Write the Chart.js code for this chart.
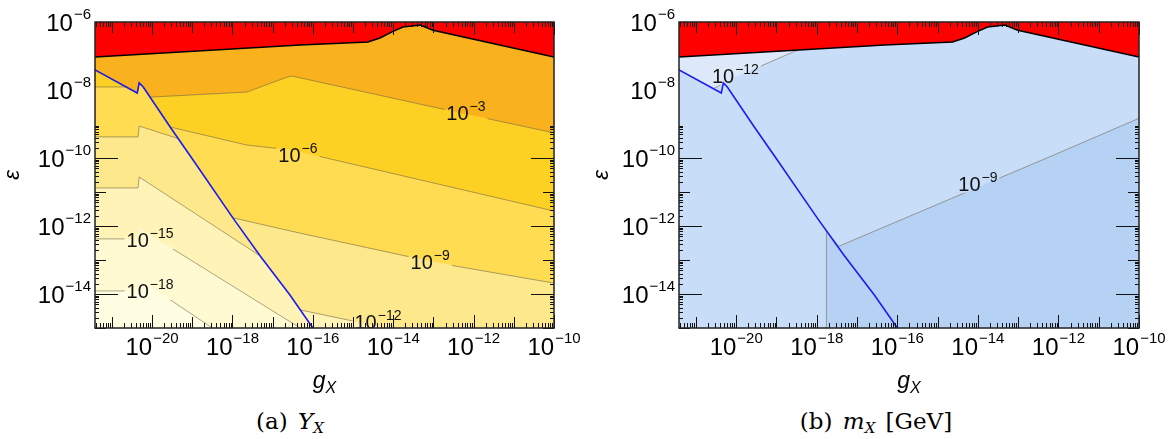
<!DOCTYPE html>
<html>
<head>
<meta charset="utf-8">
<title>Y_X and m_X contours</title>
<script src="https://cdn.jsdelivr.net/npm/chart.js@4.4.1/dist/chart.umd.min.js"></script>
<style>
  body { margin: 0; background: #fff; }
  #wrap { position: relative; width: 1175px; height: 439px; overflow: hidden; }
  canvas { position: absolute; top: 0; }
  #c1 { left: 0; }
  #c2 { left: 584px; }
  .cap { position: absolute; top: 407px; line-height: 28px; font-family: "DejaVu Serif", "Liberation Serif", serif; font-size: 23px; white-space: nowrap; transform: translateX(-50%); word-spacing: 3px; }
  .cap sub { font-size: 15px; line-height: 0; vertical-align: -4px; }
</style>
</head>
<body>
<div id="wrap">
  <canvas id="c1" width="590" height="400"></canvas>
  <canvas id="c2" width="591" height="400"></canvas>
  <div class="cap" style="left:290px">(a) <i>Y</i><sub><i>X</i></sub></div>
  <div class="cap" style="left:876px">(b) <i>m</i><sub><i>X</i></sub> [GeV]</div>
</div>
<script>
// all values are log10 (g_X on x, epsilon on y)
const xMinExp = -21.42, xMaxExp = -10;
const yMinExp = -15, yMaxExp = -6;
const xTickExp = [-20, -18, -16, -14, -12, -10];
const yTickExp = [-6, -8, -10, -12, -14];

// edge of the excluded (red) region, same in both panels
const redEdgeX = [-21.6, -16.32, -14.63, -14.33, -14.03, -13.76, -13.33, -13.01, -10.0, -9.8];
const redEdgeY = [-7.04, -6.68, -6.59, -6.47, -6.29, -6.15, -6.09, -6.24, -7.03, -7.08];

// blue line
const blueX = [-21.6, -21.42, -20.37, -20.32, -20.22, -19.55, -18.98, -17.99, -17.31, -16.57, -16.0, -15.85];
const blueY = [-7.29, -7.41, -8.09, -7.79, -7.91, -9.09, -10.06, -11.76, -12.88, -14.03, -15.0, -15.25];

// (a) Y_X contours (lines that leave through the bottom run on below the frame)
const yx3X = [-21.6, -21.42, -20.37, -20.32, -20.22, -20.05, -17.64, -16.64, -16.52, -12.66, -10.0, -9.8];
const yx3Y = [-7.29, -7.41, -8.09, -7.79, -7.91, -8.21, -8.06, -7.62, -7.59, -8.59, -9.26, -9.31];
const yx6X = [-21.6, -20.65, -20.37, -20.32, -20.22, -19.55, -17.64, -16.57, -16.32, -10.0, -9.8];
const yx6Y = [-7.91, -7.91, -8.09, -7.79, -7.91, -9.09, -9.62, -9.76, -9.82, -11.56, -11.62];
const yx9X = [-21.6, -20.35, -20.32, -19.35, -18.98, -17.99, -16.32, -13.58, -12.59, -10.0, -9.8];
const yx9Y = [-9.38, -9.38, -9.06, -9.43, -10.06, -11.76, -12.21, -12.91, -13.15, -13.68, -13.73];
const yx12X = [-21.6, -20.35, -20.32, -17.31, -16.57, -16.31, -14.9, -13.33, -9.8];
const yx12Y = [-10.88, -10.88, -10.56, -12.88, -14.03, -14.47, -14.82, -15.24, -15.3];
const yx15X = [-21.6, -20.35, -20.32, -16.07, -9.8];
const yx15Y = [-12.38, -12.38, -12.06, -15.18, -15.3];
const yx18X = [-21.6, -20.35, -20.32, -18.31, -9.8];
const yx18Y = [-13.91, -13.91, -13.56, -15.15, -15.3];
const yxLabelExp = [-3, -6, -9, -12, -15, -18];
const yxLabelX = [-12.19, -16.37, -13.08, -14.38, -20.05, -20.05];
const yxLabelY = [-8.68, -9.91, -13.06, -14.82, -12.41, -13.91];

// (b) m_X contours
const mx12X = [-21.6, -21.42, -20.57, -20.02, -18.58, -18.45];
const mx12Y = [-7.29, -7.41, -7.96, -7.62, -6.88, -6.82];
const mx9X = [-17.76, -17.76, -17.46, -12.11, -9.8];
const mx9Y = [-16, -12.14, -12.6, -9.91, -8.73];
const mxLabelExp = [-12, -9];
const mxLabelX = [-20.02, -14.0];
const mxLabelY = [-7.59, -10.76];

const FONT = '"Liberation Sans", Arial, sans-serif';

function pts(xs, ys) {
  return xs.map((v, i) => ({x: Math.pow(10, v), y: Math.pow(10, ys[i])}));
}

function contour(xs, ys, fillColor, fillTo, order) {
  return {
    data: pts(xs, ys),
    contour: true,
    borderColor: 'rgba(105,95,70,0.55)',
    borderWidth: 1,
    backgroundColor: fillColor,
    fill: fillTo,
    pointRadius: 0,
    tension: 0,
    order: order
  };
}

function powerWidths(ctx, exp, big, small) {
  ctx.font = big + 'px ' + FONT;
  const w1 = ctx.measureText('10').width;
  ctx.font = small + 'px ' + FONT;
  const w2 = ctx.measureText('\u2212' + Math.abs(exp)).width + 1;
  return [w1, w2];
}

function powerText(ctx, exp, x, y, big, small, rise, align) {
  const [w1, w2] = powerWidths(ctx, exp, big, small);
  let x0 = x;
  if (align === 'center') x0 = x - (w1 + w2) / 2;
  if (align === 'right') x0 = x - w1 - w2;
  ctx.textAlign = 'left';
  ctx.textBaseline = 'alphabetic';
  ctx.font = big + 'px ' + FONT;
  ctx.fillText('10', x0, y);
  ctx.font = small + 'px ' + FONT;
  ctx.fillText('\u2212' + Math.abs(exp), x0 + w1 + 1, y - rise);
}

function decor(bg, labelExp, labelX, labelY, epsX) {
  // boxes round the contour labels, the contour lines break there
  function labelBoxes(chart) {
    const xs = chart.scales.x, ys = chart.scales.y;
    return labelExp.map((e, i) => {
      const [w1, w2] = powerWidths(chart.ctx, e, 20, 14);
      const px = xs.getPixelForValue(Math.pow(10, labelX[i]));
      const py = ys.getPixelForValue(Math.pow(10, labelY[i]));
      return {x: px - (w1 + w2) / 2 - 2, y: py - 13, w: w1 + w2 + 4, h: 22};
    });
  }
  return {
    id: 'decor',
    beforeDraw(chart) {
      const {ctx, chartArea: a} = chart;
      ctx.save();
      ctx.fillStyle = bg;
      ctx.fillRect(a.left, a.top, a.right - a.left, a.bottom - a.top);
      ctx.restore();
    },
    beforeDatasetDraw(chart, args) {
      if (!chart.data.datasets[args.index].contour) return;
      const ctx = chart.ctx;
      ctx.save();
      ctx.beginPath();
      ctx.rect(0, 0, chart.width, chart.height);
      labelBoxes(chart).forEach(b => ctx.rect(b.x, b.y, b.w, b.h));
      ctx.clip('evenodd');
    },
    afterDatasetDraw(chart, args) {
      if (chart.data.datasets[args.index].contour) chart.ctx.restore();
    },
    afterDraw(chart) {
      const {ctx, chartArea: a} = chart;
      const xs = chart.scales.x, ys = chart.scales.y;
      ctx.save();

      // contour labels
      ctx.save();
      ctx.beginPath();
      ctx.rect(a.left, a.top, a.right - a.left, a.bottom - a.top);
      ctx.clip();
      ctx.fillStyle = '#111';
      labelExp.forEach((e, i) => {
        const px = xs.getPixelForValue(Math.pow(10, labelX[i]));
        const py = ys.getPixelForValue(Math.pow(10, labelY[i]));
        powerText(ctx, e, px, py + 7, 20, 14, 9, 'center');
      });
      ctx.restore();

      // ticks on all four sides, pointing inward
      ctx.strokeStyle = '#111';
      ctx.lineWidth = 1;
      ctx.beginPath();
      for (let n = -22; n <= -10; n++) {
        for (let k = 1; k <= 9; k++) {
          const v = k * Math.pow(10, n);
          if (v >= xs.min * 0.999 && v <= xs.max * 1.001) {
            const p = Math.round(xs.getPixelForValue(v)) + 0.5;
            const len = k > 1 ? 5 : (xTickExp.includes(n) ? 13 : 11);
            ctx.moveTo(p, a.bottom); ctx.lineTo(p, a.bottom - len);
            ctx.moveTo(p, a.top); ctx.lineTo(p, a.top + len);
          }
          if (v >= ys.min * 0.999 && v <= ys.max * 1.001) {
            const p = Math.round(ys.getPixelForValue(v)) + 0.5;
            const len = k > 1 ? 4 : (yTickExp.includes(n) ? 23 : 11);
            ctx.moveTo(a.left, p); ctx.lineTo(a.left + len, p);
            ctx.moveTo(a.right, p); ctx.lineTo(a.right - len, p);
          }
        }
      }
      ctx.stroke();

      // frame
      ctx.lineWidth = 1.5;
      ctx.strokeStyle = '#222';
      ctx.strokeRect(a.left, a.top, a.right - a.left, a.bottom - a.top);

      // tick labels
      ctx.fillStyle = '#000';
      xTickExp.forEach(e => {
        const p = xs.getPixelForValue(Math.pow(10, e));
        powerText(ctx, e, p, a.bottom + 27, 24, 15, 12, 'center');
      });
      yTickExp.forEach(e => {
        const p = ys.getPixelForValue(Math.pow(10, e));
        powerText(ctx, e, a.left - 4, p + 9, 24, 15, 12, 'right');
      });

      // axis titles
      ctx.save();
      ctx.translate(epsX, (a.top + a.bottom) / 2);
      ctx.rotate(-Math.PI / 2);
      ctx.font = 'italic 22px ' + FONT;
      ctx.textAlign = 'center';
      ctx.textBaseline = 'middle';
      ctx.fillText('\u03b5', 0, 0);
      ctx.restore();

      ctx.font = 'italic 23px ' + FONT;
      const wg = ctx.measureText('g').width;
      ctx.font = 'italic 16px ' + FONT;
      const wx = ctx.measureText('X').width;
      const gx = (a.left + a.right) / 2 - (wg + wx) / 2;
      ctx.textAlign = 'left';
      ctx.textBaseline = 'alphabetic';
      ctx.font = 'italic 23px ' + FONT;
      ctx.fillText('g', gx, a.bottom + 60);
      ctx.font = 'italic 16px ' + FONT;
      ctx.fillText('X', gx + wg, a.bottom + 65);

      ctx.restore();
    }
  };
}

function baseOptions() {
  return {
    responsive: false,
    animation: false,
    devicePixelRatio: 1,
    events: [],
    layout: {padding: {left: 95, right: 36, top: 22, bottom: 72}},
    scales: {
      x: {type: 'logarithmic', min: Math.pow(10, xMinExp), max: Math.pow(10, xMaxExp), display: false},
      y: {type: 'logarithmic', min: Math.pow(10, yMinExp), max: Math.pow(10, yMaxExp), display: false}
    },
    plugins: {
      legend: {display: false},
      tooltip: {enabled: false},
      filler: {propagate: false, drawTime: 'beforeDatasetsDraw'}
    }
  };
}

function blueDataset() {
  return {data: pts(blueX, blueY), borderColor: '#1c1cf2', borderWidth: 1.6, pointRadius: 0, fill: false, tension: 0, order: 0};
}
function redDataset() {
  return {data: pts(redEdgeX, redEdgeY), borderColor: '#000', borderWidth: 1.5, backgroundColor: '#ff0000', fill: 'end', pointRadius: 0, tension: 0, order: 1};
}

// (a) Y_X
new Chart(document.getElementById('c1'), {
  type: 'line',
  data: {
    datasets: [
      blueDataset(),
      redDataset(),
      contour(yx3X, yx3Y, '#f9b11e', 'end', 2),
      contour(yx6X, yx6Y, '#fdd024', 'end', 3),
      contour(yx9X, yx9Y, '#ffdc52', 'end', 4),
      contour(yx12X, yx12Y, '#fee88c', 'end', 5),
      contour(yx15X, yx15Y, '#fff3b8', 'end', 6),
      contour(yx18X, yx18Y, '#fffad2', 'end', 7)
    ]
  },
  options: baseOptions(),
  plugins: [decor('#fffee2', yxLabelExp, yxLabelX, yxLabelY, 13)]
});

// (b) m_X
new Chart(document.getElementById('c2'), {
  type: 'line',
  data: {
    datasets: [
      blueDataset(),
      redDataset(),
      contour(mx12X, mx12Y, '#dde9f9', 'end', 2),
      contour(mx9X, mx9Y, '#b5d2f5', 'start', 3)
    ]
  },
  options: baseOptions(),
  plugins: [decor('#c8ddf7', mxLabelExp, mxLabelX, mxLabelY, 18)]
});
</script>
</body>
</html>
